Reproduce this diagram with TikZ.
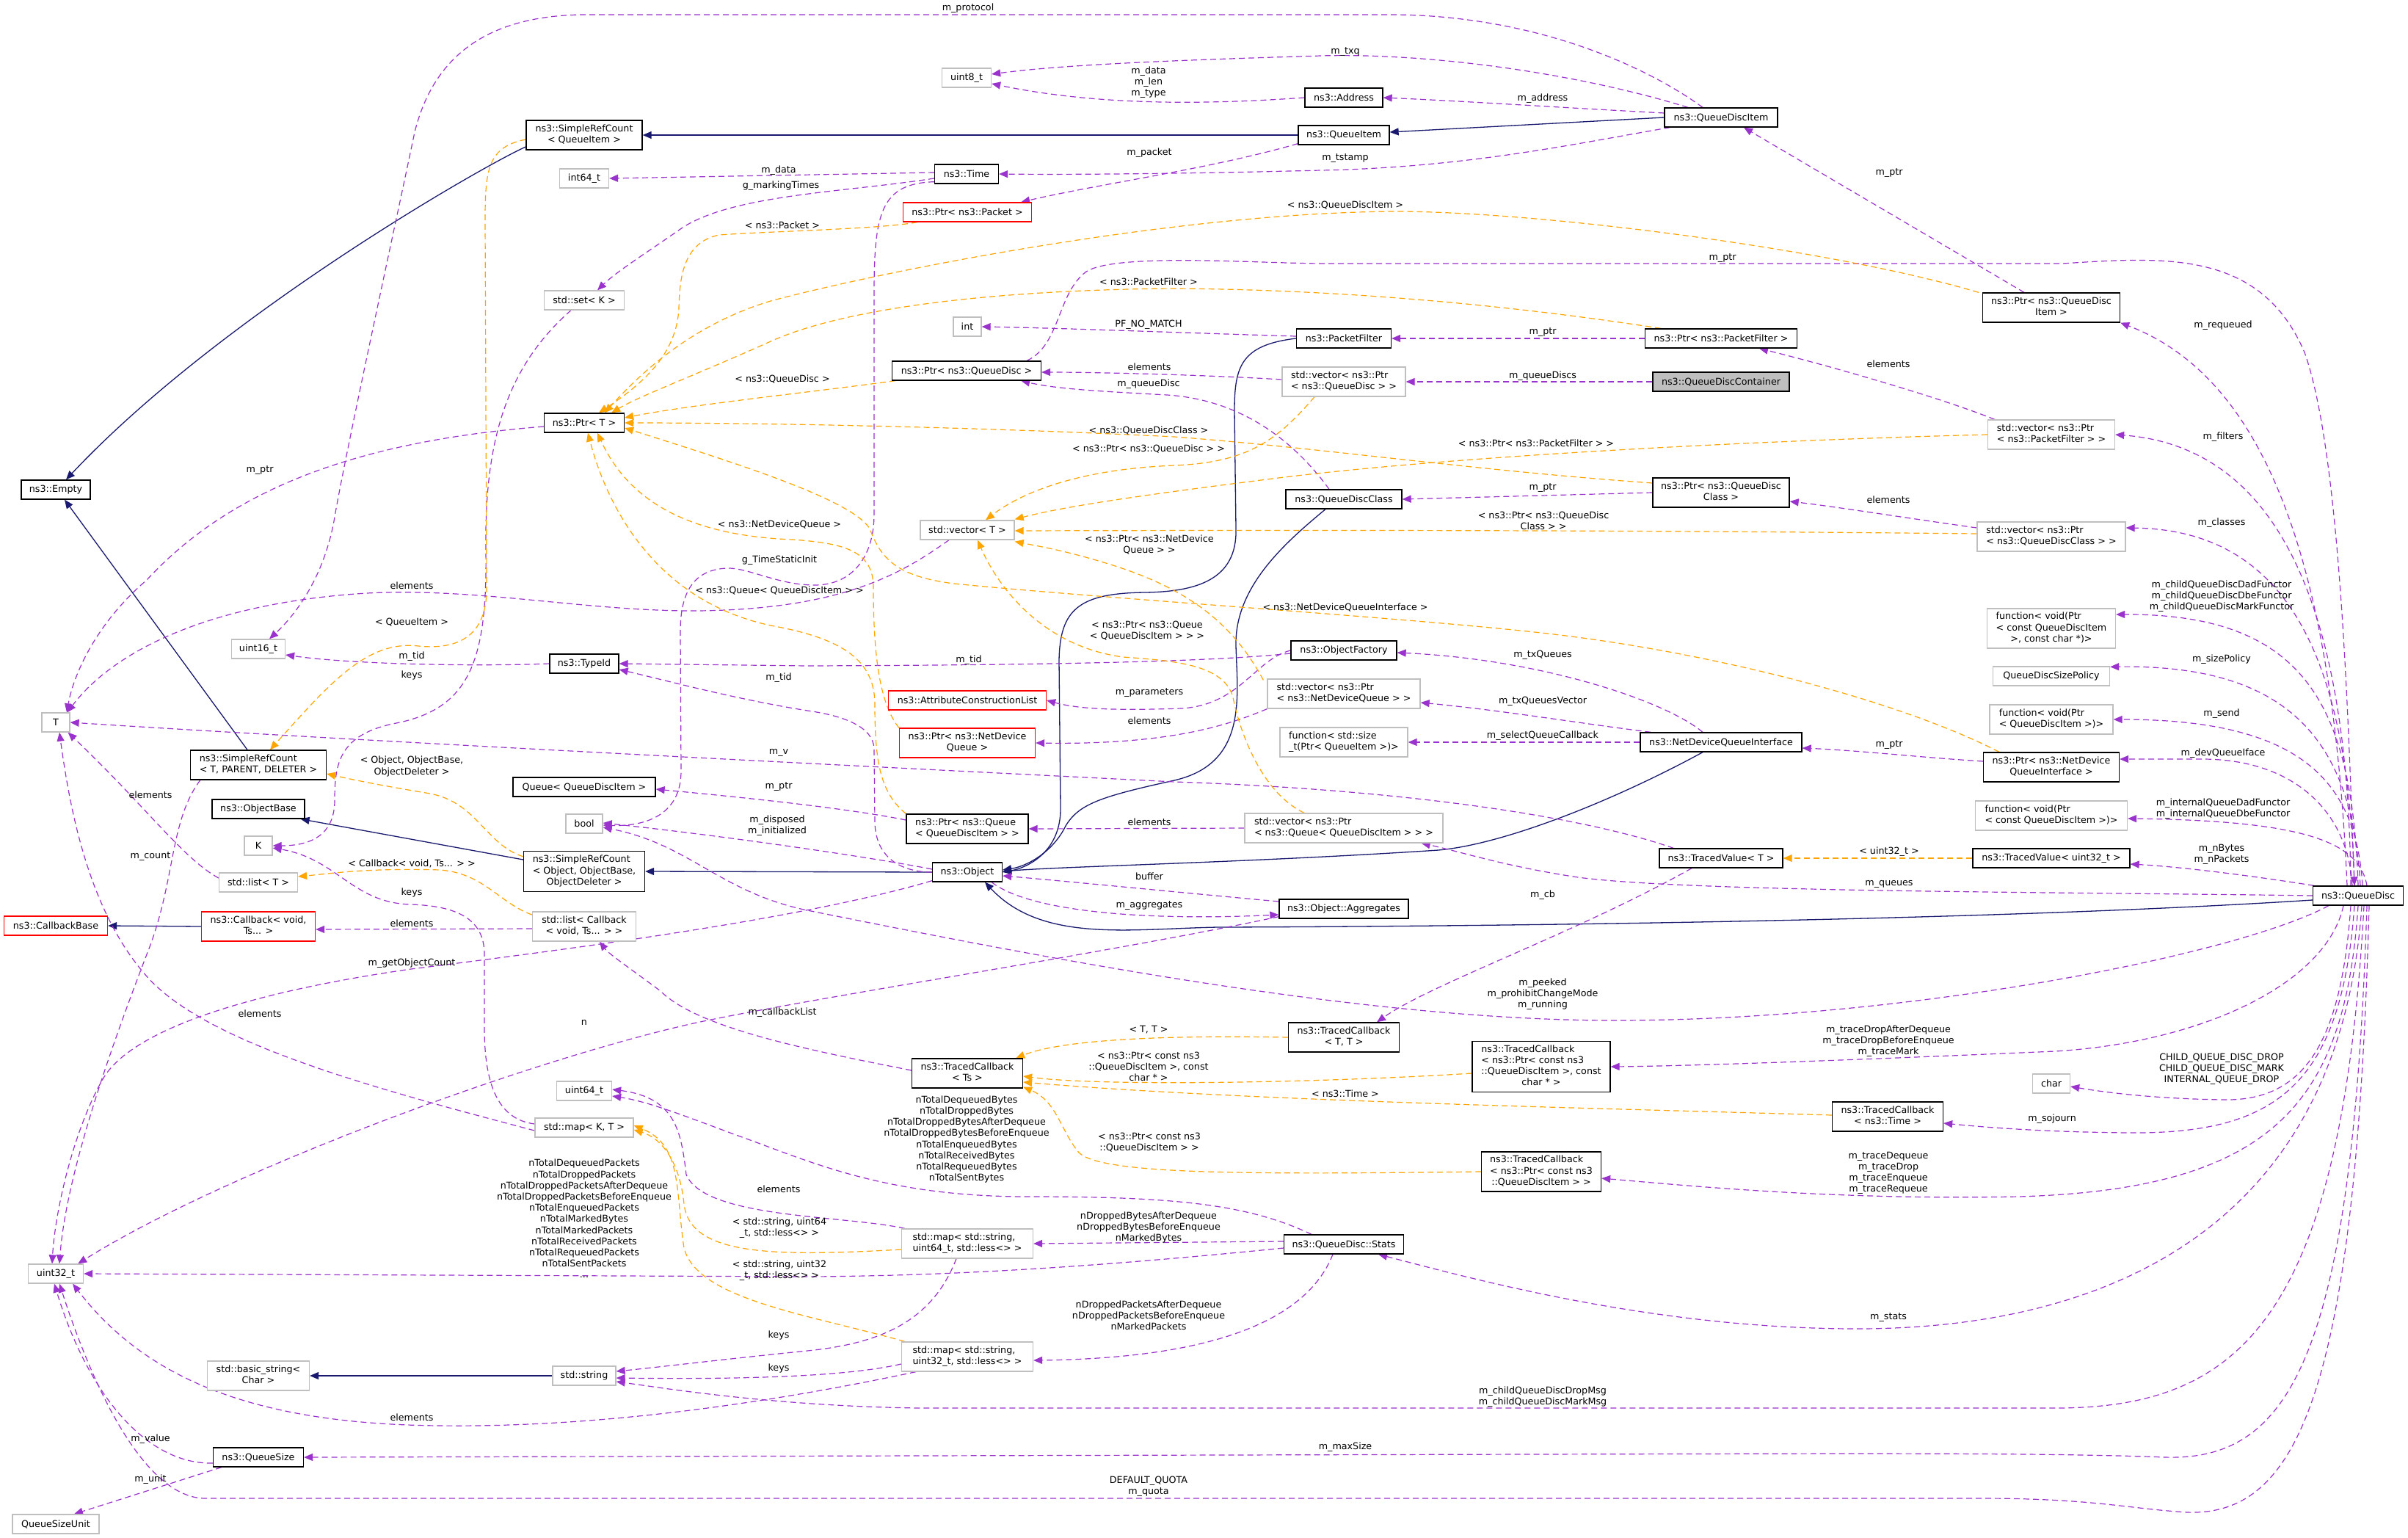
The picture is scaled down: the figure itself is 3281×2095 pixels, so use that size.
\documentclass[tikz,border=0pt]{standalone}
\usepackage{fontspec}
\setmainfont{DejaVu Sans}
\usetikzlibrary{arrows.meta,calc}
\pgfdeclarelayer{edgelayer}
\pgfsetlayers{edgelayer,main}
\definecolor{purp}{HTML}{9A32CD}
\definecolor{orng}{HTML}{FFA500}
\definecolor{inhblue}{HTML}{191970}
\definecolor{gbord}{HTML}{BFBFBF}
\definecolor{rootfill}{HTML}{BFBFBF}
\definecolor{redb}{HTML}{FF0000}
\newcommand\dgfont{\fontsize{12.7pt}{15.2pt}\selectfont}
\newcommand\twol[2]{\begin{tabular}{@{}l@{}}#1\\\multicolumn{1}{@{}c@{}}{#2}\end{tabular}}
\newcommand\threel[3]{\begin{tabular}{@{}l@{}}#1\\#2\\\multicolumn{1}{@{}c@{}}{#3}\end{tabular}}
\newcommand\fourl[4]{\begin{tabular}{@{}l@{}}#1\\#2\\#3\\\multicolumn{1}{@{}c@{}}{#4}\end{tabular}}
\tikzset{
  nb/.style={draw=black, fill=white, line width=1.3pt, inner sep=2pt, font=\dgfont, text=black},
  ng/.style={nb, draw=gbord},
  nr/.style={nb, draw=redb},
  nroot/.style={nb, fill=rootfill},
  wh/.style 2 args={minimum width=#1pt, minimum height=#2pt},
  lab/.style={font=\dgfont, align=center, inner sep=0pt, text=black},
  mem/.style={draw=purp, line width=1.2pt, dash pattern=on 8pt off 5pt, -{Triangle[length=12pt,width=10pt]}},
  tpl/.style={draw=orng, line width=1.2pt, dash pattern=on 8pt off 5pt, -{Triangle[length=12pt,width=10pt]}},
  inh/.style={draw=inhblue, line width=1.3pt, -{Triangle[length=12pt,width=10pt]}}
}
\begin{document}
\begin{tikzpicture}[x=1pt,y=-1pt]
\useasboundingbox (0,0) rectangle (3281,2095);
% ---------------- nodes ----------------
\node[nb, wh={94}{26}] (empty) at (76,667) {ns3::Empty};
\node[ng, wh={38}{26}] (T) at (76,984) {T};
\node[nr, wh={141}{26}] (cbbase) at (76,1261) {ns3::CallbackBase};
\node[ng, wh={75}{26}] (u32) at (76,1735) {uint32\_t};
\node[ng, wh={118}{26}] (qsu) at (76,2076) {QueueSizeUnit};
\node[ng, wh={73}{26}] (u16) at (352,884) {uint16\_t};
\node[nb, wh={185}{40}] (srcT) at (352,1042) {\twol{ns3::SimpleRefCount}{< T, PARENT, DELETER >}};
\node[nb, wh={126}{26}] (objbase) at (352,1102) {ns3::ObjectBase};
\node[ng, wh={38}{26}] (K) at (352,1152) {K};
\node[ng, wh={107}{26}] (listT) at (352,1202) {std::list< T >};
\node[nr, wh={155}{40}] (cb) at (352,1262) {\twol{ns3::Callback< void,}{Ts... >}};
\node[ng, wh={139}{40}] (bstr) at (352,1874) {\twol{std::basic\_string<}{Char >}};
\node[nb, wh={123}{26}] (qsize) at (352,1985) {ns3::QueueSize};
\node[nb, wh={158}{40}] (srcQI) at (796,184) {\twol{ns3::SimpleRefCount}{< QueueItem >}};
\node[ng, wh={67}{26}] (i64) at (796,243) {int64\_t};
\node[ng, wh={109}{26}] (setK) at (796,409) {std::set< K >};
\node[nb, wh={109}{26}] (ptrT) at (796,576) {ns3::Ptr< T >};
\node[nb, wh={94}{26}] (typeid) at (796,904) {ns3::TypeId};
\node[nb, wh={194}{26}] (queue) at (796,1072) {Queue< QueueDiscItem >};
\node[ng, wh={50}{26}] (bool) at (796,1122) {bool};
\node[nb, wh={165}{55}] (srcO) at (796,1187) {\threel{ns3::SimpleRefCount}{< Object, ObjectBase,}{ObjectDeleter >}};
\node[ng, wh={141}{40}] (listcb) at (796,1262) {\twol{std::list< Callback}{< void, Ts... > >}};
\node[ng, wh={75}{26}] (u64) at (796,1486) {uint64\_t};
\node[ng, wh={134}{26}] (mapKT) at (796,1536) {std::map< K, T >};
\node[ng, wh={86}{26}] (str) at (796,1874) {std::string};
\node[ng, wh={67}{26}] (u8) at (1317,106) {uint8\_t};
\node[nb, wh={87}{26}] (time) at (1317,237) {ns3::Time};
\node[nr, wh={175}{26}] (ptrpkt) at (1318,289) {ns3::Ptr< ns3::Packet >};
\node[ng, wh={38}{26}] (int) at (1318,445) {int};
\node[nb, wh={203}{26}] (ptrqd) at (1317,505) {ns3::Ptr< ns3::QueueDisc >};
\node[ng, wh={128}{26}] (vecT) at (1318,722) {std::vector< T >};
\node[nr, wh={215}{26}] (acl) at (1318,954) {ns3::AttributeConstructionList};
\node[nr, wh={185}{40}] (ptrndq) at (1318,1012) {\twol{ns3::Ptr< ns3::NetDevice}{Queue >}};
\node[nb, wh={166}{40}] (ptrq) at (1318,1129) {\twol{ns3::Ptr< ns3::Queue}{< QueueDiscItem > >}};
\node[nb, wh={95}{26}] (object) at (1318,1188) {ns3::Object};
\node[nb, wh={151}{40}] (tcTs) at (1318,1462) {\twol{ns3::TracedCallback}{< Ts >}};
\node[ng, wh={179}{40}] (map64) at (1318,1694) {\twol{std::map< std::string,}{uint64\_t, std::less<> >}};
\node[ng, wh={179}{40}] (map32) at (1318,1848) {\twol{std::map< std::string,}{uint32\_t, std::less<> >}};
\node[nb, wh={106}{26}] (address) at (1831,133) {ns3::Address};
\node[nb, wh={124}{26}] (qitem) at (1831,184) {ns3::QueueItem};
\node[nb, wh={129}{26}] (pfilter) at (1831,461) {ns3::PacketFilter};
\node[ng, wh={168}{40}] (vecqd) at (1831,520) {\twol{std::vector< ns3::Ptr}{< ns3::QueueDisc > >}};
\node[nb, wh={158}{26}] (qdc) at (1831,680) {ns3::QueueDiscClass};
\node[nb, wh={144}{26}] (ofactory) at (1831,886) {ns3::ObjectFactory};
\node[ng, wh={208}{40}] (vecndq) at (1831,945) {\twol{std::vector< ns3::Ptr}{< ns3::NetDeviceQueue > >}};
\node[ng, wh={174}{40}] (fnsize) at (1831,1011) {\twol{function< std::size}{\_t(Ptr< QueueItem >)>}};
\node[ng, wh={270}{40}] (vecq) at (1831,1128) {\twol{std::vector< ns3::Ptr}{< ns3::Queue< QueueDiscItem > > >}};
\node[nb, wh={176}{26}] (aggr) at (1831,1238) {ns3::Object::Aggregates};
\node[nb, wh={151}{40}] (tcTT) at (1831,1413) {\twol{ns3::TracedCallback}{< T, T >}};
\node[nb, wh={163}{26}] (stats) at (1831,1695) {ns3::QueueDisc::Stats};
\node[nb, wh={154}{26}] (qdi) at (2345,160) {ns3::QueueDiscItem};
\node[nb, wh={207}{26}] (ptrpf) at (2345,461) {ns3::Ptr< ns3::PacketFilter >};
\node[nroot, wh={186}{26}] (qdcont) at (2345,520) {ns3::QueueDiscContainer};
\node[nb, wh={186}{40}] (ptrqdc) at (2345,671) {\twol{ns3::Ptr< ns3::QueueDisc}{Class >}};
\node[nb, wh={220}{26}] (ndqi) at (2345,1011) {ns3::NetDeviceQueueInterface};
\node[nb, wh={168}{26}] (tvT) at (2345,1169) {ns3::TracedValue< T >};
\node[nb, wh={188}{69}] (tcPtrChar) at (2100,1453) {\fourl{ns3::TracedCallback}{< ns3::Ptr< const ns3}{::QueueDiscItem >, const}{char * >}};
\node[nb, wh={163}{54}] (tcPtr) at (2100,1596) {\threel{ns3::TracedCallback}{< ns3::Ptr< const ns3}{::QueueDiscItem > >}};
\node[nb, wh={151}{40}] (tcTime) at (2572,1521) {\twol{ns3::TracedCallback}{< ns3::Time >}};
\node[nb, wh={187}{40}] (ptrqdi) at (2795,419) {\twol{ns3::Ptr< ns3::QueueDisc}{Item >}};
\node[ng, wh={173}{40}] (vecpf) at (2795,592) {\twol{std::vector< ns3::Ptr}{< ns3::PacketFilter > >}};
\node[ng, wh={202}{40}] (vecqdc) at (2795,731) {\twol{std::vector< ns3::Ptr}{< ns3::QueueDiscClass > >}};
\node[ng, wh={175}{54}] (fnvc) at (2795,856) {\threel{function< void(Ptr}{< const QueueDiscItem}{>, const char *)>}};
\node[ng, wh={159}{26}] (qdsp) at (2795,921) {QueueDiscSizePolicy};
\node[ng, wh={168}{40}] (fnv) at (2795,980) {\twol{function< void(Ptr}{< QueueDiscItem >)>}};
\node[nb, wh={185}{40}] (ptrndqi) at (2795,1045) {\twol{ns3::Ptr< ns3::NetDevice}{QueueInterface >}};
\node[ng, wh={207}{40}] (fnvcq) at (2795,1111) {\twol{function< void(Ptr}{< const QueueDiscItem >)>}};
\node[nb, wh={214}{26}] (tvu32) at (2795,1169) {ns3::TracedValue< uint32\_t >};
\node[ng, wh={51}{26}] (char) at (2795,1476) {char};
\node[nb, wh={123}{26}] (qdisc) at (3213,1220) {ns3::QueueDisc};
% ---------------- labels ----------------
\node[lab] (lb1) at (1319,11) {m\_protocol};
\node[lab] (lb2) at (1833,71) {m\_txq};
\node[lab] (lb3) at (1565,112) {m\_data\\m\_len\\m\_type};
\node[lab] (lb4) at (2102,134) {m\_address};
\node[lab] (lb5) at (1566,208) {m\_packet};
\node[lab] (lb6) at (1833,216) {m\_tstamp};
\node[lab] (lb7) at (1061,232) {m\_data};
\node[lab] (lb8) at (1064,253) {g\_markingTimes};
\node[lab] (lb9) at (1066,307) {< ns3::Packet >};
\node[lab] (lb10) at (1833,279) {< ns3::QueueDiscItem >};
\node[lab] (lb11) at (2347,352) {m\_ptr};
\node[lab] (lb12) at (2574,236) {m\_ptr};
\node[lab] (lb13) at (1565,384) {< ns3::PacketFilter >};
\node[lab] (lb14) at (1565,442) {PF\_NO\_MATCH};
\node[lab] (lb15) at (2102,453) {m\_ptr};
\node[lab] (lb16) at (1566,500) {elements};
\node[lab] (lb17) at (2102,512) {m\_queueDiscs};
\node[lab] (lb18) at (1565,523) {m\_queueDisc};
\node[lab] (lb19) at (1066,516) {< ns3::QueueDisc >};
\node[lab] (lb20) at (2573,496) {elements};
\node[lab] (lb21) at (3029,443) {m\_requeued};
\node[lab] (lb22) at (3029,595) {m\_filters};
\node[lab] (lb23) at (1565,586) {< ns3::QueueDiscClass >};
\node[lab] (lb24) at (1565,611) {< ns3::Ptr< ns3::QueueDisc > >};
\node[lab] (lb25) at (2093,604) {< ns3::Ptr< ns3::PacketFilter > >};
\node[lab] (lb26) at (2102,665) {m\_ptr};
\node[lab] (lb27) at (2573,681) {elements};
\node[lab] (lb28) at (2103,709) {< ns3::Ptr< ns3::QueueDisc\\Class > >};
\node[lab] (lb29) at (3027,712) {m\_classes};
\node[lab] (lb30) at (3027,812) {m\_childQueueDiscDadFunctor\\m\_childQueueDiscDbeFunctor\\m\_childQueueDiscMarkFunctor};
\node[lab] (lb31) at (3027,898) {m\_sizePolicy};
\node[lab] (lb32) at (3027,972) {m\_send};
\node[lab] (lb33) at (3029,1026) {m\_devQueueIface};
\node[lab] (lb34) at (3029,1102) {m\_internalQueueDadFunctor\\m\_internalQueueDbeFunctor};
\node[lab] (lb35) at (3027,1164) {m\_nBytes\\m\_nPackets};
\node[lab] (lb36) at (2574,1015) {m\_ptr};
\node[lab] (lb37) at (2574,1160) {< uint32\_t >};
\node[lab] (lb38) at (2574,1204) {m\_queues};
\node[lab] (lb39) at (1566,742) {< ns3::Ptr< ns3::NetDevice\\Queue > >};
\node[lab] (lb40) at (1833,827) {< ns3::NetDeviceQueueInterface >};
\node[lab] (lb41) at (1563,859) {< ns3::Ptr< ns3::Queue\\< QueueDiscItem > > >};
\node[lab] (lb42) at (1320,899) {m\_tid};
\node[lab] (lb43) at (1566,944) {m\_parameters};
\node[lab] (lb44) at (1566,982) {elements};
\node[lab] (lb45) at (1566,1120) {elements};
\node[lab] (lb46) at (1566,1194) {buffer};
\node[lab] (lb47) at (1566,1234) {m\_aggregates};
\node[lab] (lb48) at (2102,892) {m\_txQueues};
\node[lab] (lb49) at (2102,955) {m\_txQueuesVector};
\node[lab] (lb50) at (2102,1002) {m\_selectQueueCallback};
\node[lab] (lb51) at (2102,1219) {m\_cb};
\node[lab] (lb52) at (2102,1354) {m\_peeked\\m\_prohibitChangeMode\\m\_running};
\node[lab] (lb53) at (561,798) {elements};
\node[lab] (lb54) at (561,848) {< QueueItem >};
\node[lab] (lb55) at (561,894) {m\_tid};
\node[lab] (lb56) at (561,920) {keys};
\node[lab] (lb57) at (561,1044) {< Object, ObjectBase,\\ObjectDeleter >};
\node[lab] (lb58) at (205,1083) {elements};
\node[lab] (lb59) at (205,1167) {m\_count};
\node[lab] (lb60) at (561,1176) {< Callback< void, Ts... > >};
\node[lab] (lb61) at (561,1216) {keys};
\node[lab] (lb62) at (561,1258) {elements};
\node[lab] (lb63) at (561,1312) {m\_getObjectCount};
\node[lab] (lb64) at (354,1381) {elements};
\node[lab] (lb65) at (796,1393) {n};
\node[lab] (lb66) at (1062,763) {g\_TimeStaticInit};
\node[lab] (lb67) at (1062,804) {< ns3::Queue< QueueDiscItem > >};
\node[lab] (lb68) at (1061,923) {m\_tid};
\node[lab] (lb69) at (1061,1025) {m\_v};
\node[lab] (lb70) at (1061,1072) {m\_ptr};
\node[lab] (lb71) at (1059,1125) {m\_disposed\\m\_initialized};
\node[lab] (lb72) at (1066,1379) {m\_callbackList};
\node[lab] (lb73) at (1062,714) {< ns3::NetDeviceQueue >};
\node[lab] (lb74) at (1565,1403) {< T, T >};
\node[lab] (lb75) at (1565,1453) {< ns3::Ptr< const ns3\\::QueueDiscItem >, const\\char * >};
\node[lab] (lb76) at (1833,1490) {< ns3::Time >};
\node[lab] (lb77) at (1317,1552) {nTotalDequeuedBytes\\nTotalDroppedBytes\\nTotalDroppedBytesAfterDequeue\\nTotalDroppedBytesBeforeEnqueue\\nTotalEnqueuedBytes\\nTotalReceivedBytes\\nTotalRequeuedBytes\\nTotalSentBytes};
\node[lab] (lb78) at (1566,1556) {< ns3::Ptr< const ns3\\::QueueDiscItem > >};
\node[lab] (lb79) at (1565,1672) {nDroppedBytesAfterDequeue\\nDroppedBytesBeforeEnqueue\\nMarkedBytes};
\node[lab] (lb80) at (1565,1792) {nDroppedPacketsAfterDequeue\\nDroppedPacketsBeforeEnqueue\\nMarkedPackets};
\node[lab] (lb81) at (2102,1903) {m\_childQueueDiscDropMsg\\m\_childQueueDiscMarkMsg};
\node[lab] (lb82) at (1833,1971) {m\_maxSize};
\node[lab] (lb83) at (1565,2025) {DEFAULT\_QUOTA\\m\_quota};
\node[lab] (lb84) at (2573,1418) {m\_traceDropAfterDequeue\\m\_traceDropBeforeEnqueue\\m\_traceMark};
\node[lab] (lb85) at (3027,1456) {CHILD\_QUEUE\_DISC\_DROP\\CHILD\_QUEUE\_DISC\_MARK\\INTERNAL\_QUEUE\_DROP};
\node[lab] (lb86) at (2796,1524) {m\_sojourn};
\node[lab] (lb87) at (2573,1598) {m\_traceDequeue\\m\_traceDrop\\m\_traceEnqueue\\m\_traceRequeue};
\node[lab] (lb88) at (2573,1795) {m\_stats};
\node[lab] (lb89) at (796,1660) {nTotalDequeuedPackets\\nTotalDroppedPackets\\nTotalDroppedPacketsAfterDequeue\\nTotalDroppedPacketsBeforeEnqueue\\nTotalEnqueuedPackets\\nTotalMarkedBytes\\nTotalMarkedPackets\\nTotalReceivedPackets\\nTotalRequeuedPackets\\nTotalSentPackets\\...};
\node[lab] (lb90) at (1061,1620) {elements};
\node[lab] (lb91) at (1062,1673) {< std::string, uint64\\\_t, std::less<> >};
\node[lab] (lb92) at (1062,1731) {< std::string, uint32\\\_t, std::less<> >};
\node[lab] (lb93) at (1061,1819) {keys};
\node[lab] (lb94) at (1061,1864) {keys};
\node[lab] (lb95) at (561,1931) {elements};
\node[lab] (lb96) at (205,1960) {m\_value};
\node[lab] (lb97) at (205,2015) {m\_unit};
\node[lab] (lb98) at (354,641) {m\_ptr};
% ---------------- edges ----------------
\begin{pgfonlayer}{edgelayer}
\fill[white] (0,0) rectangle (3281,2095);
% inheritance
\draw[inh] ($(srcQI.west)+(0,16)$) .. controls (660,225) and (300,430) .. ($(empty.north)+(14,0)$);
\draw[inh] (qitem.west) -- (srcQI.east);
\draw[inh] (qdi.west) -- ($(qitem.east)+(0,-4)$);
\draw[inh] ($(srcT.north)+(-15,0)$) -- ($(empty.south)+(12,0)$);
\draw[inh] ($(srcO.west)+(0,-16)$) -- ($(objbase.south east)+(-6,0)$);
\draw[inh] (object.west) -- (srcO.east);
\draw[inh] (cb.west) -- (cbbase.east);
\draw[inh] (str.west) -- (bstr.east);
\draw[inh] (pfilter.west) .. controls (1690,470) and (1682,500) .. (1682,560) -- (1684,720) .. controls (1686,790) and (1630,806) .. (1560,807) .. controls (1470,808) and (1444,830) .. (1443,900) -- (1445,1100) .. controls (1446,1160) and (1400,1182) .. (object.east);
\draw[inh] ($(qdc.south)+(-25,0)$) .. controls (1750,740) and (1682,800) .. (1684,880) .. controls (1686,950) and (1700,1040) .. (1600,1063) .. controls (1500,1085) and (1470,1095) .. (1452,1125) .. controls (1435,1160) and (1400,1180) .. ($(object.east)+(0,-3)$);
\draw[inh] ($(ndqi.south)+(-25,0)$) .. controls (2200,1090) and (2050,1150) .. (1960,1158) .. controls (1700,1175) and (1450,1180) .. ($(object.east)+(0,-1)$);
\draw[inh] ($(qdisc.west)+(0,6)$) .. controls (2700,1255) and (2000,1262) .. (1660,1263) .. controls (1540,1265) and (1420,1285) .. ($(object.south)+(24,0)$);
% members
\draw[mem] ($(qdi.north)+(-25,0)$) .. controls (2250,95) and (2100,22) .. (1900,20) -- (800,20) .. controls (660,20) and (590,80) .. (565,180) .. controls (540,300) and (470,620) .. (455,710) .. controls (440,790) and (400,840) .. ($(u16.north)+(15,0)$);
\draw[mem] ($(qdi.north)+(-45,0)$) .. controls (2150,100) and (1950,72) .. (1800,76) .. controls (1600,82) and (1450,88) .. ($(u8.east)+(0,-5)$);
\draw[mem] ($(qdi.west)+(0,-6)$) .. controls (2100,145) and (2000,138) .. (address.east);
\draw[mem] ($(qdi.south west)+(8,0)$) .. controls (2150,195) and (2000,228) .. (1800,232) .. controls (1600,237) and (1450,238) .. (time.east);
\draw[mem] (address.west) .. controls (1650,142) and (1500,145) .. ($(u8.east)+(0,8)$);
\draw[mem] ($(qitem.south west)+(0,-2)$) .. controls (1650,230) and (1500,250) .. ($(ptrpkt.north east)+(-15,0)$);
\draw[mem] ($(time.west)+(0,-2)$) -- (i64.east);
\draw[mem] ($(time.west)+(0,6)$) .. controls (1150,262) and (1000,265) .. (930,310) .. controls (880,345) and (840,370) .. ($(setK.north)+(18,0)$);
\draw[mem] ($(time.south west)+(0,-3)$) .. controls (1200,250) and (1191,290) .. (1191,400) -- (1191,700) .. controls (1191,760) and (1160,797) .. (1110,797) .. controls (1060,797) and (1020,773) .. (990,774) .. controls (950,776) and (927,800) .. (927,860) -- (928,1050) .. controls (928,1110) and (880,1126) .. ($(bool.east)+(0,2)$);
\draw[mem] (object.west) .. controls (1230,1188) and (1193,1170) .. (1192,1120) -- (1191,1020) .. controls (1190,990) and (1150,975) .. (1100,968) .. controls (1000,952) and (900,925) .. ($(typeid.east)+(0,8)$);
\draw[mem] ($(ofactory.west)+(0,4)$) .. controls (1650,902) and (1400,906) .. (1100,907) -- (typeid.east);
\draw[mem] (ofactory.west) .. controls (1710,898) and (1690,960) .. (1610,965) .. controls (1520,968) and (1470,966) .. (acl.east);
\draw[mem] ($(ndqi.north)+(-25,0)$) .. controls (2270,955) and (2100,898) .. ($(ofactory.east)+(0,3)$);
\draw[mem] ($(ndqi.north west)+(15,0)$) .. controls (2150,985) and (2050,968) .. ($(vecndq.east)+(0,12)$);
\draw[mem] (ndqi.west) -- (fnsize.east);
\draw[mem] (vecndq.south west) .. controls (1680,985) and (1600,1015) .. (ptrndq.east);
\draw[mem] ($(ptrndqi.west)+(0,-8)$) .. controls (2620,1032) and (2530,1022) .. ($(ndqi.east)+(0,8)$);
\draw[mem] ($(qdisc.north)+(-8,0)$) .. controls (3200,1110) and (3130,1034) .. (3000,1034) -- ($(ptrndqi.east)+(0,-11)$);
\draw[mem] ($(qdisc.north)+(-15,0)$) .. controls (3180,800) and (3100,520) .. (ptrqdi.south east);
\draw[mem] ($(ptrqd.north east)+(-20,0)$) .. controls (1445,470) and (1440,400) .. (1480,370) .. controls (1520,345) and (1700,358) .. (1800,359) -- (2810,359) .. controls (2950,350) and (3080,340) .. (3140,480) .. controls (3190,620) and (3200,1000) .. ($(qdisc.north)+(-5,0)$);
\draw[mem] ($(qdisc.north)+(-10,0)$) .. controls (3200,860) and (3120,610) .. (vecpf.east);
\draw[mem] ($(qdisc.north)+(-5,0)$) .. controls (3200,920) and (3130,722) .. ($(vecqdc.east)+(0,-12)$);
\draw[mem] (qdisc.north) .. controls (3205,960) and (3140,836) .. ($(fnvc.east)+(0,-19)$);
\draw[mem] ($(qdisc.north)+(3,0)$) .. controls (3205,1010) and (3120,905) .. ($(qdsp.north east)+(0,1)$);
\draw[mem] ($(qdisc.north)+(6,0)$) .. controls (3210,1060) and (3130,980) .. (fnv.east);
\draw[mem] ($(qdisc.north)+(12,0)$) .. controls (3215,1150) and (3150,1118) .. ($(fnvcq.east)+(0,4)$);
\draw[mem] ($(qdisc.north west)+(2,0)$) .. controls (3050,1190) and (2960,1180) .. ($(tvu32.east)+(0,8)$);
\draw[mem] (qdisc.west) .. controls (2800,1215) and (2300,1215) .. (2150,1195) .. controls (2050,1180) and (1990,1160) .. ($(vecq.south east)+(-30,0)$);
\draw[mem] ($(qdisc.south west)+(22,0)$) .. controls (3050,1300) and (2600,1390) .. (2200,1390) .. controls (1850,1390) and (1400,1300) .. (1100,1240) .. controls (980,1215) and (940,1150) .. ($(bool.east)+(0,5)$);
\draw[mem] ($(object.west)+(0,-4)$) .. controls (1200,1170) and (1000,1140) .. ($(bool.east)+(0,-1)$);
\draw[mem] ($(qdisc.south)+(-20,0)$) .. controls (3170,1340) and (3000,1420) .. (2800,1432) .. controls (2500,1445) and (2300,1452) .. (tcPtrChar.east);
\draw[mem] ($(qdisc.south)+(-10,0)$) .. controls (3190,1420) and (3140,1500) .. (3030,1498) .. controls (2950,1497) and (2880,1490) .. ($(char.east)+(0,4)$);
\draw[mem] ($(qdisc.south)+(-5,0)$) .. controls (3190,1480) and (3100,1545) .. (2900,1543) .. controls (2780,1542) and (2700,1535) .. ($(tcTime.east)+(0,9)$);
\draw[mem] (qdisc.south) .. controls (3195,1500) and (3100,1620) .. (2750,1630) .. controls (2500,1635) and (2300,1615) .. ($(tcPtr.east)+(0,9)$);
\draw[mem] ($(qdisc.south)+(5,0)$) .. controls (3190,1650) and (2900,1810) .. (2530,1810) .. controls (2250,1810) and (2000,1740) .. ($(stats.south east)+(-35,0)$);
\draw[mem] ($(qdisc.south)+(8,0)$) .. controls (3190,1800) and (3050,1918) .. (2800,1918) -- (1250,1918) .. controls (1050,1915) and (900,1890) .. ($(str.east)+(0,8)$);
\draw[mem] ($(qdisc.south)+(12,0)$) .. controls (3205,1850) and (3120,1990) .. (2950,1985) .. controls (2850,1981) and (2700,1980) .. (2500,1980) -- (qsize.east);
\draw[mem] ($(qdisc.south)+(15,0)$) .. controls (3210,1900) and (3130,2065) .. (2980,2060) .. controls (2900,2055) and (2850,2041) .. (2700,2041) -- (280,2041) .. controls (200,2041) and (130,1900) .. ($(u32.south)+(5,0)$);
\draw[mem] ($(ptrqdi.north)+(-37,0)$) -- ($(qdi.south)+(31,0)$);
\draw[mem] ($(vecpf.north west)+(10,0)$) .. controls (2640,540) and (2480,495) .. ($(ptrpf.south)+(52,0)$);
\draw[mem] (ptrpf.west) -- (pfilter.east);
\draw[mem] ($(pfilter.west)+(0,-3)$) .. controls (1600,453) and (1450,447) .. (int.east);
\draw[mem] ($(vecqd.west)+(0,-3)$) .. controls (1650,511) and (1500,507) .. ($(ptrqd.east)+(0,2)$);
\draw[mem] (qdcont.west) -- (vecqd.east);
\draw[mem] ($(qdc.north)+(-20,0)$) .. controls (1770,610) and (1700,545) .. (1590,538) .. controls (1500,533) and (1440,530) .. ($(ptrqd.south east)+(-28,0)$);
\draw[mem] (ptrqdc.west) -- (qdc.east);
\draw[mem] ($(vecqdc.west)+(0,-12)$) .. controls (2600,706) and (2500,690) .. ($(ptrqdc.east)+(0,12)$);
\draw[mem] ($(ptrT.west)+(0,5)$) .. controls (500,600) and (320,660) .. (200,790) .. controls (130,850) and (100,920) .. ($(T.north)+(15,0)$);
\draw[mem] ($(vecT.south)+(-25,0)$) .. controls (1230,780) and (1150,830) .. (950,832) .. controls (800,833) and (650,800) .. (500,808) .. controls (300,820) and (160,880) .. ($(T.north east)+(-4,0)$);
\draw[mem] ($(listT.west)+(0,-6)$) .. controls (250,1170) and (200,1100) .. ($(T.south east)+(-3,0)$);
\draw[mem] ($(srcT.south west)+(14,0)$) .. controls (230,1120) and (240,1200) .. (200,1300) .. controls (150,1430) and (90,1600) .. ($(u32.north)+(5,0)$);
\draw[mem] ($(object.south west)+(0,-2)$) .. controls (1100,1250) and (800,1290) .. (560,1320) .. controls (350,1350) and (180,1400) .. (140,1470) .. controls (100,1540) and (75,1650) .. ($(u32.north)+(-5,0)$);
\draw[mem] ($(aggr.south west)+(0,-3)$) .. controls (1500,1300) and (1100,1360) .. (940,1395) .. controls (700,1450) and (300,1600) .. ($(u32.north east)+(-8,0)$);
\draw[mem] ($(ptrq.west)+(0,-12)$) .. controls (1150,1100) and (1000,1085) .. ($(queue.east)+(0,3)$);
\draw[mem] (vecq.west) -- (ptrq.east);
\draw[mem] ($(aggr.west)+(0,-10)$) .. controls (1600,1215) and (1450,1200) .. ($(object.east)+(0,5)$);
\draw[mem] ($(object.south east)+(-15,0)$) .. controls (1400,1240) and (1550,1255) .. ($(aggr.west)+(0,8)$);
\draw[mem] ($(tvT.north west)+(20,0)$) .. controls (2150,1110) and (1900,1075) .. (1600,1065) .. controls (1200,1045) and (500,1010) .. (T.east);
\draw[mem] ($(tvT.south)+(-40,0)$) .. controls (2150,1270) and (1950,1340) .. ($(tcTT.north)+(45,0)$);
\draw[mem] ($(setK.south)+(-18,0)$) .. controls (690,500) and (660,600) .. (662,750) .. controls (664,900) and (640,965) .. (540,985) .. controls (462,1000) and (456,1040) .. (456,1090) .. controls (456,1140) and (420,1152) .. (K.east);
\draw[mem] ($(mapKT.west)+(0,-5)$) .. controls (680,1525) and (660,1480) .. (660,1400) -- (660,1300) .. controls (660,1250) and (620,1234) .. (560,1232) .. controls (480,1230) and (460,1170) .. ($(K.east)+(0,3)$);
\draw[mem] ($(mapKT.west)+(0,4)$) .. controls (500,1480) and (280,1420) .. (200,1330) .. controls (120,1240) and (95,1100) .. ($(T.south)+(5,0)$);
\draw[mem] ($(listcb.west)+(0,3)$) -- ($(cb.east)+(0,4)$);
\draw[mem] ($(tcTs.west)+(0,-4)$) .. controls (1100,1430) and (950,1400) .. (900,1350) .. controls (860,1320) and (830,1300) .. ($(listcb.south)+(21,0)$);
\draw[mem] (typeid.west) .. controls (650,908) and (480,905) .. ($(u16.east)+(0,8)$);
\draw[mem] ($(stats.north)+(-44,0)$) .. controls (1700,1640) and (1600,1630) .. (1400,1630) .. controls (1200,1630) and (1100,1580) .. (1000,1545) .. controls (920,1515) and (880,1500) .. ($(u64.east)+(0,7)$);
\draw[mem] ($(map64.north west)+(5,0)$) .. controls (1150,1655) and (960,1660) .. (935,1600) .. controls (928,1540) and (920,1495) .. ($(u64.east)+(0,-2)$);
\draw[mem] ($(stats.west)+(0,5)$) .. controls (1500,1725) and (1300,1738) .. (1100,1739) -- (u32.east);
\draw[mem] ($(stats.west)+(0,-4)$) -- (map64.east);
\draw[mem] ($(stats.south)+(-15,0)$) .. controls (1780,1800) and (1650,1850) .. ($(map32.east)+(0,5)$);
\draw[mem] ($(map64.south)+(-15,0)$) .. controls (1270,1800) and (1200,1830) .. (1100,1840) .. controls (1000,1850) and (900,1862) .. ($(str.east)+(0,-6)$);
\draw[mem] ($(map32.west)+(0,10)$) .. controls (1150,1876) and (1000,1879) .. ($(str.east)+(0,3)$);
\draw[mem] ($(map32.south west)+(20,0)$) .. controls (1100,1900) and (850,1945) .. (600,1942) .. controls (350,1940) and (200,1880) .. ($(u32.south east)+(-15,0)$);
\draw[mem] ($(qsize.west)+(0,8)$) .. controls (200,1995) and (120,1900) .. ($(u32.south)+(-2,0)$);
\draw[mem] ($(qsize.south west)+(12,0)$) -- ($(qsu.north)+(25,0)$);
% templates
\draw[tpl] ($(srcQI.west)+(0,6)$) .. controls (665,200) and (661,230) .. (661,300) -- (663,800) .. controls (664,870) and (620,885) .. (570,880) .. controls (500,872) and (450,930) .. ($(srcT.north)+(16,0)$);
\draw[tpl] ($(srcO.north west)+(0,8)$) .. controls (660,1150) and (650,1090) .. (580,1080) .. controls (520,1070) and (480,1062) .. ($(srcT.east)+(0,12)$);
\draw[tpl] ($(listcb.west)+(0,-16)$) .. controls (680,1230) and (660,1190) .. (600,1185) .. controls (500,1182) and (450,1190) .. ($(listT.east)+(0,-8)$);
\draw[tpl] ($(ptrpkt.south west)+(20,0)$) .. controls (1200,312) and (1050,315) .. (980,320) .. controls (930,330) and (926,380) .. (925,420) .. controls (922,480) and (880,520) .. ($(ptrT.north)+(20,0)$);
\draw[tpl] ($(ptrqdi.north west)+(-5,0)$) .. controls (2500,340) and (2100,288) .. (1900,288) .. controls (1600,290) and (1200,370) .. (1050,410) .. controls (950,440) and (880,500) .. ($(ptrT.north)+(28,0)$);
\draw[tpl] ($(ptrpf.north west)+(22,0)$) .. controls (2150,430) and (1900,395) .. (1600,393) .. controls (1350,395) and (1150,420) .. (1050,465) .. controls (950,510) and (870,540) .. ($(ptrT.north east)+(-18,0)$);
\draw[tpl] ($(ptrqd.south west)+(5,0)$) .. controls (1100,535) and (950,550) .. ($(ptrT.east)+(0,-7)$);
\draw[tpl] ($(ptrqdc.west)+(0,-13)$) .. controls (2000,640) and (1800,610) .. (1600,595) .. controls (1300,580) and (1000,576) .. (ptrT.east);
\draw[tpl] ($(ptrndqi.north west)+(22,0)$) .. controls (2600,960) and (2350,890) .. (2100,862) .. controls (1900,840) and (1500,815) .. (1300,795) .. controls (1220,785) and (1200,760) .. (1185,720) .. controls (1160,680) and (1000,630) .. ($(ptrT.east)+(0,7)$);
\draw[tpl] (ptrndq.north west) .. controls (1200,960) and (1190,900) .. (1190,800) .. controls (1190,750) and (1150,740) .. (1080,735) .. controls (950,730) and (860,690) .. ($(ptrT.south)+(18,0)$);
\draw[tpl] (ptrq.north west) .. controls (1200,1080) and (1192,1040) .. (1192,960) .. controls (1192,900) and (1150,870) .. (1050,852) .. controls (900,820) and (830,700) .. ($(ptrT.south)+(5,0)$);
\draw[tpl] ($(vecqd.south)+(-40,0)$) .. controls (1740,600) and (1700,630) .. (1600,634) .. controls (1450,640) and (1380,680) .. ($(vecT.north)+(25,0)$);
\draw[tpl] (vecpf.west) .. controls (2400,600) and (2000,620) .. (1750,650) .. controls (1550,675) and (1450,690) .. ($(vecT.north east)+(0,-1)$);
\draw[tpl] ($(vecqdc.west)+(0,-4)$) .. controls (2200,722) and (1800,722) .. ($(vecT.east)+(0,1)$);
\draw[tpl] ($(vecndq.north west)+(-5,2)$) .. controls (1680,850) and (1620,800) .. (1500,765) .. controls (1450,750) and (1420,745) .. ($(vecT.south east)+(0,2)$);
\draw[tpl] ($(vecq.north)+(-54,0)$) .. controls (1720,1080) and (1690,1000) .. (1680,950) .. controls (1668,905) and (1600,900) .. (1530,895) .. controls (1420,880) and (1360,800) .. ($(vecT.south)+(14,0)$);
\draw[tpl] ($(map64.west)+(0,8)$) .. controls (1050,1712) and (940,1710) .. (932,1640) .. controls (926,1580) and (900,1550) .. ($(mapKT.east)+(0,3)$);
\draw[tpl] ($(map32.north west)+(5,0)$) .. controls (1100,1790) and (950,1770) .. (932,1700) .. controls (920,1620) and (930,1560) .. ($(mapKT.east)+(0,-3)$);
\draw[tpl] (tcTT.west) .. controls (1600,1410) and (1450,1415) .. ($(tcTs.north east)+(-10,0)$);
\draw[tpl] ($(tcPtrChar.west)+(0,9)$) .. controls (1800,1475) and (1500,1480) .. ($(tcTs.east)+(0,4)$);
\draw[tpl] ($(tcTime.west)+(0,-2)$) .. controls (2200,1510) and (1700,1500) .. ($(tcTs.east)+(0,12)$);
\draw[tpl] (tcPtr.west) .. controls (1700,1600) and (1500,1600) .. (1470,1570) .. controls (1445,1540) and (1440,1500) .. ($(tcTs.south east)+(0,-2)$);
\draw[tpl] (tvu32.west) -- (tvT.east);
\end{pgfonlayer}
\end{tikzpicture}
\end{document}
